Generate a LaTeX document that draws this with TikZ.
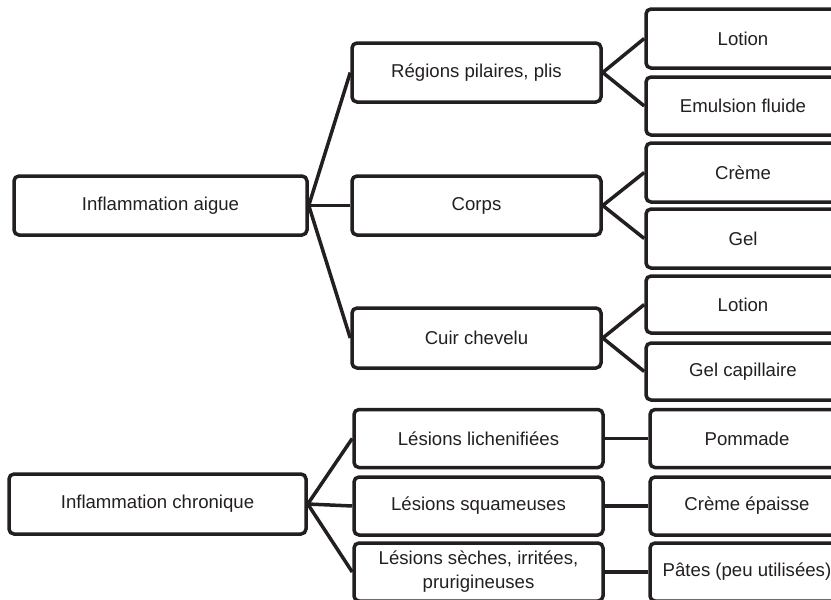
\documentclass[tikz,border=0pt]{standalone}
\usepackage{fontspec}
\setmainfont{Liberation Sans}
\definecolor{ink}{HTML}{231F20}
\begin{document}
\begin{tikzpicture}[x=1pt,y=-1pt,
  box/.style={draw=ink, text=ink, line width=3.5pt, rounded corners=5pt, inner sep=0pt,
    align=center, font=\fontsize{18.6}{24}\selectfont},
  wide/.style={minimum width=293pt, minimum height=59pt},
  mid/.style={minimum width=249pt, minimum height=59pt},
  leaf/.style={minimum width=194pt, minimum height=59pt},
  link/.style={draw=ink, line width=3.5pt, line join=round}]
\useasboundingbox (0,0) rectangle (831,600);
\clip (0,0) rectangle (831,600);
% acute
\node[box,wide] (ia) at (160.5,205.5) {Inflammation aigue};
\node[box,mid] (reg) at (476.5,72.5) {Régions pilaires, plis};
\node[box,mid] (corps) at (476.5,205.5) {Corps};
\node[box,mid,minimum height=60pt] (cuir) at (476.5,338) {Cuir chevelu};
\node[box,leaf] (lot1) at (743,38.5) {Lotion};
\node[box,leaf,minimum height=58pt] (emul) at (743,106) {Emulsion fluide};
\node[box,leaf] (creme) at (743,172.5) {Crème};
\node[box,leaf] (gel) at (743,238.5) {Gel};
\node[box,leaf,minimum height=57pt] (lot2) at (743,304.5) {Lotion};
\node[box,leaf,minimum height=57pt] (gelcap) at (743,371.5) {Gel capillaire};
% chronic
\node[box,minimum width=297pt,minimum height=60pt] (ic) at (157.5,504) {Inflammation chronique};
\node[box,mid,minimum height=58pt] (lich) at (478.5,438.5) {Lésions lichenifiées};
\node[box,mid,minimum height=58pt] (squam) at (478.5,506) {Lésions squameuses};
\node[box,mid,minimum height=58pt] (seche) at (478.5,572) {Lésions sèches, irritées,\\prurigineuses};
\node[box,leaf,minimum height=58pt] (pom) at (747,438.5) {Pommade};
\node[box,leaf,minimum height=58pt] (crep) at (747,506) {Crème épaisse};
\node[box,leaf,minimum height=58pt] (pates) at (747,572) {Pâtes (peu utilisées)};
% connectors
\draw[link] (reg.west) -- (ia.east) -- (cuir.west);
\draw[link] (ia.east) -- (corps.west);
\draw[link] (lot1.west) -- (reg.east) -- (emul.west);
\draw[link] (creme.west) -- (corps.east) -- (gel.west);
\draw[link] (lot2.west) -- (cuir.east) -- (gelcap.west);
\draw[link] (lich.west) -- (ic.east) -- (seche.west);
\draw[link] (ic.east) -- (squam.west);
\draw[link] (lich.east) -- (pom.west);
\draw[link] (squam.east) -- (crep.west);
\draw[link] (seche.east) -- (pates.west);
\end{tikzpicture}
\end{document}
